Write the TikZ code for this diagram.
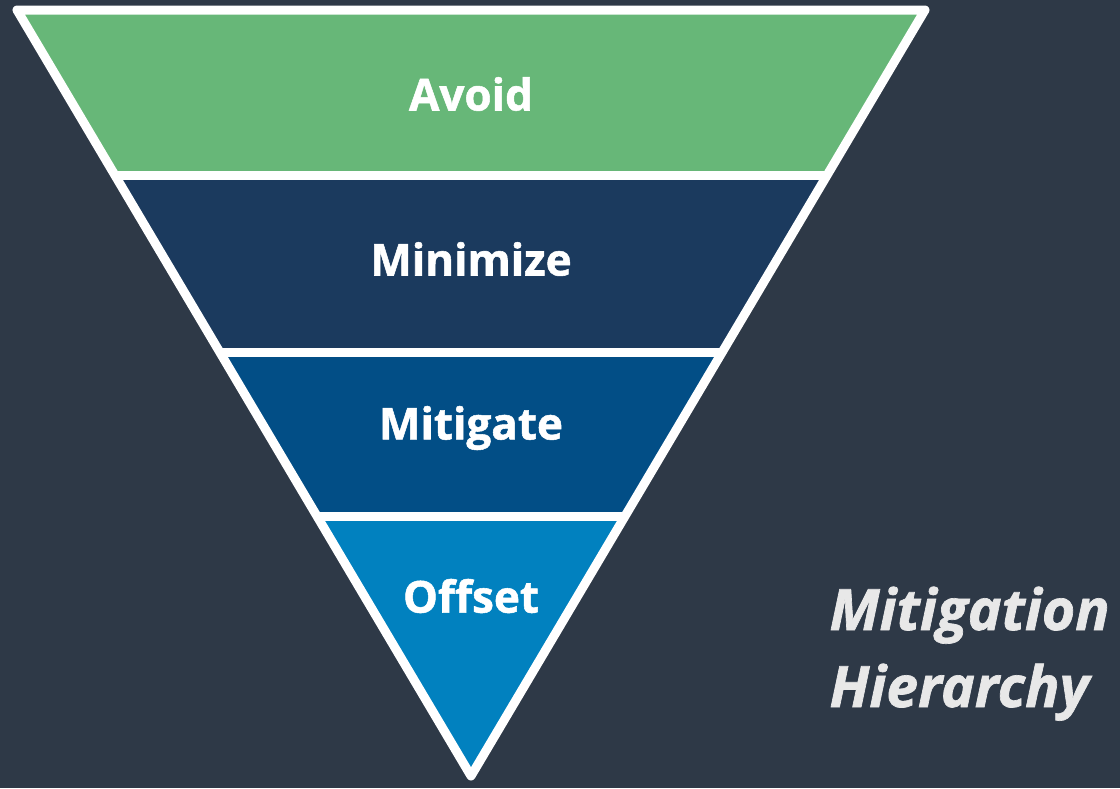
\documentclass[tikz,border=0pt]{standalone}
\usepackage{fontspec}
\setsansfont{Open Sans}[BoldFeatures={FakeBold=1.2},BoldItalicFeatures={FakeBold=1.2}]
\usepackage{xcolor}
\usetikzlibrary{calc}
\usetikzlibrary{positioning}

\definecolor{bgdark}{HTML}{2E3947}
\definecolor{avoidgreen}{HTML}{67B778}
\definecolor{minnavy}{HTML}{1B3A5E}
\definecolor{mitblue}{HTML}{024E86}
\definecolor{offblue}{HTML}{0181BF}
\definecolor{titlegray}{HTML}{E8E8E8}

\tikzset{
  edge/.style={draw=white,line width=9pt,line join=round},
  bandlabel/.style={text=white,font=\sffamily\bfseries\fontsize{44}{50}\selectfont},
  titlelabel/.style={text=titlegray,anchor=base west,font=\sffamily\bfseries\itshape\fontsize{57}{66}\selectfont}
}

\begin{document}
\begin{tikzpicture}[x=1pt,y=-1pt]

			\useasboundingbox (0,0) rectangle (1120,788);
			\fill[bgdark] (0,0) rectangle (1120,788);

			\coordinate (tl) at (17,10);
			\coordinate (tr) at (925,10);
			\coordinate (ap) at (471,776);
			\coordinate (l1) at ($(tl)!0.2161!(ap)$);
			\coordinate (r1) at ($(tr)!0.2161!(ap)$);
			\coordinate (l2) at ($(tl)!0.4465!(ap)$);
			\coordinate (r2) at ($(tr)!0.4465!(ap)$);
			\coordinate (l3) at ($(tl)!0.6606!(ap)$);
			\coordinate (r3) at ($(tr)!0.6606!(ap)$);

			\fill[avoidgreen] (tl) -- (tr) -- (r1) -- (l1) -- cycle;
			\fill[minnavy] (l1) -- (r1) -- (r2) -- (l2) -- cycle;
			\fill[mitblue] (l2) -- (r2) -- (r3) -- (l3) -- cycle;
			\fill[offblue] (l3) -- (r3) -- (ap) -- cycle;

			\draw[edge] (l1) -- (r1);
			\draw[edge] (l2) -- (r2);
			\draw[edge] (l3) -- (r3);
			\draw[edge] (tl) -- (tr) -- (ap) -- cycle;

			\node[bandlabel] (avoid) at (471,94) {Avoid};
			\node[bandlabel] (minimize) at (471,259) {Minimize};
			\node[bandlabel] (mitigate) at (471,428) {Mitigate};
			\node[bandlabel] (offset) at (471,596) {Offset};

			\node[titlelabel] (mitigation) at (826,630) {Mitigation};
			\node[titlelabel] (hierarchy) at (826,707) {Hierarchy};

		\end{tikzpicture}
\end{document}
